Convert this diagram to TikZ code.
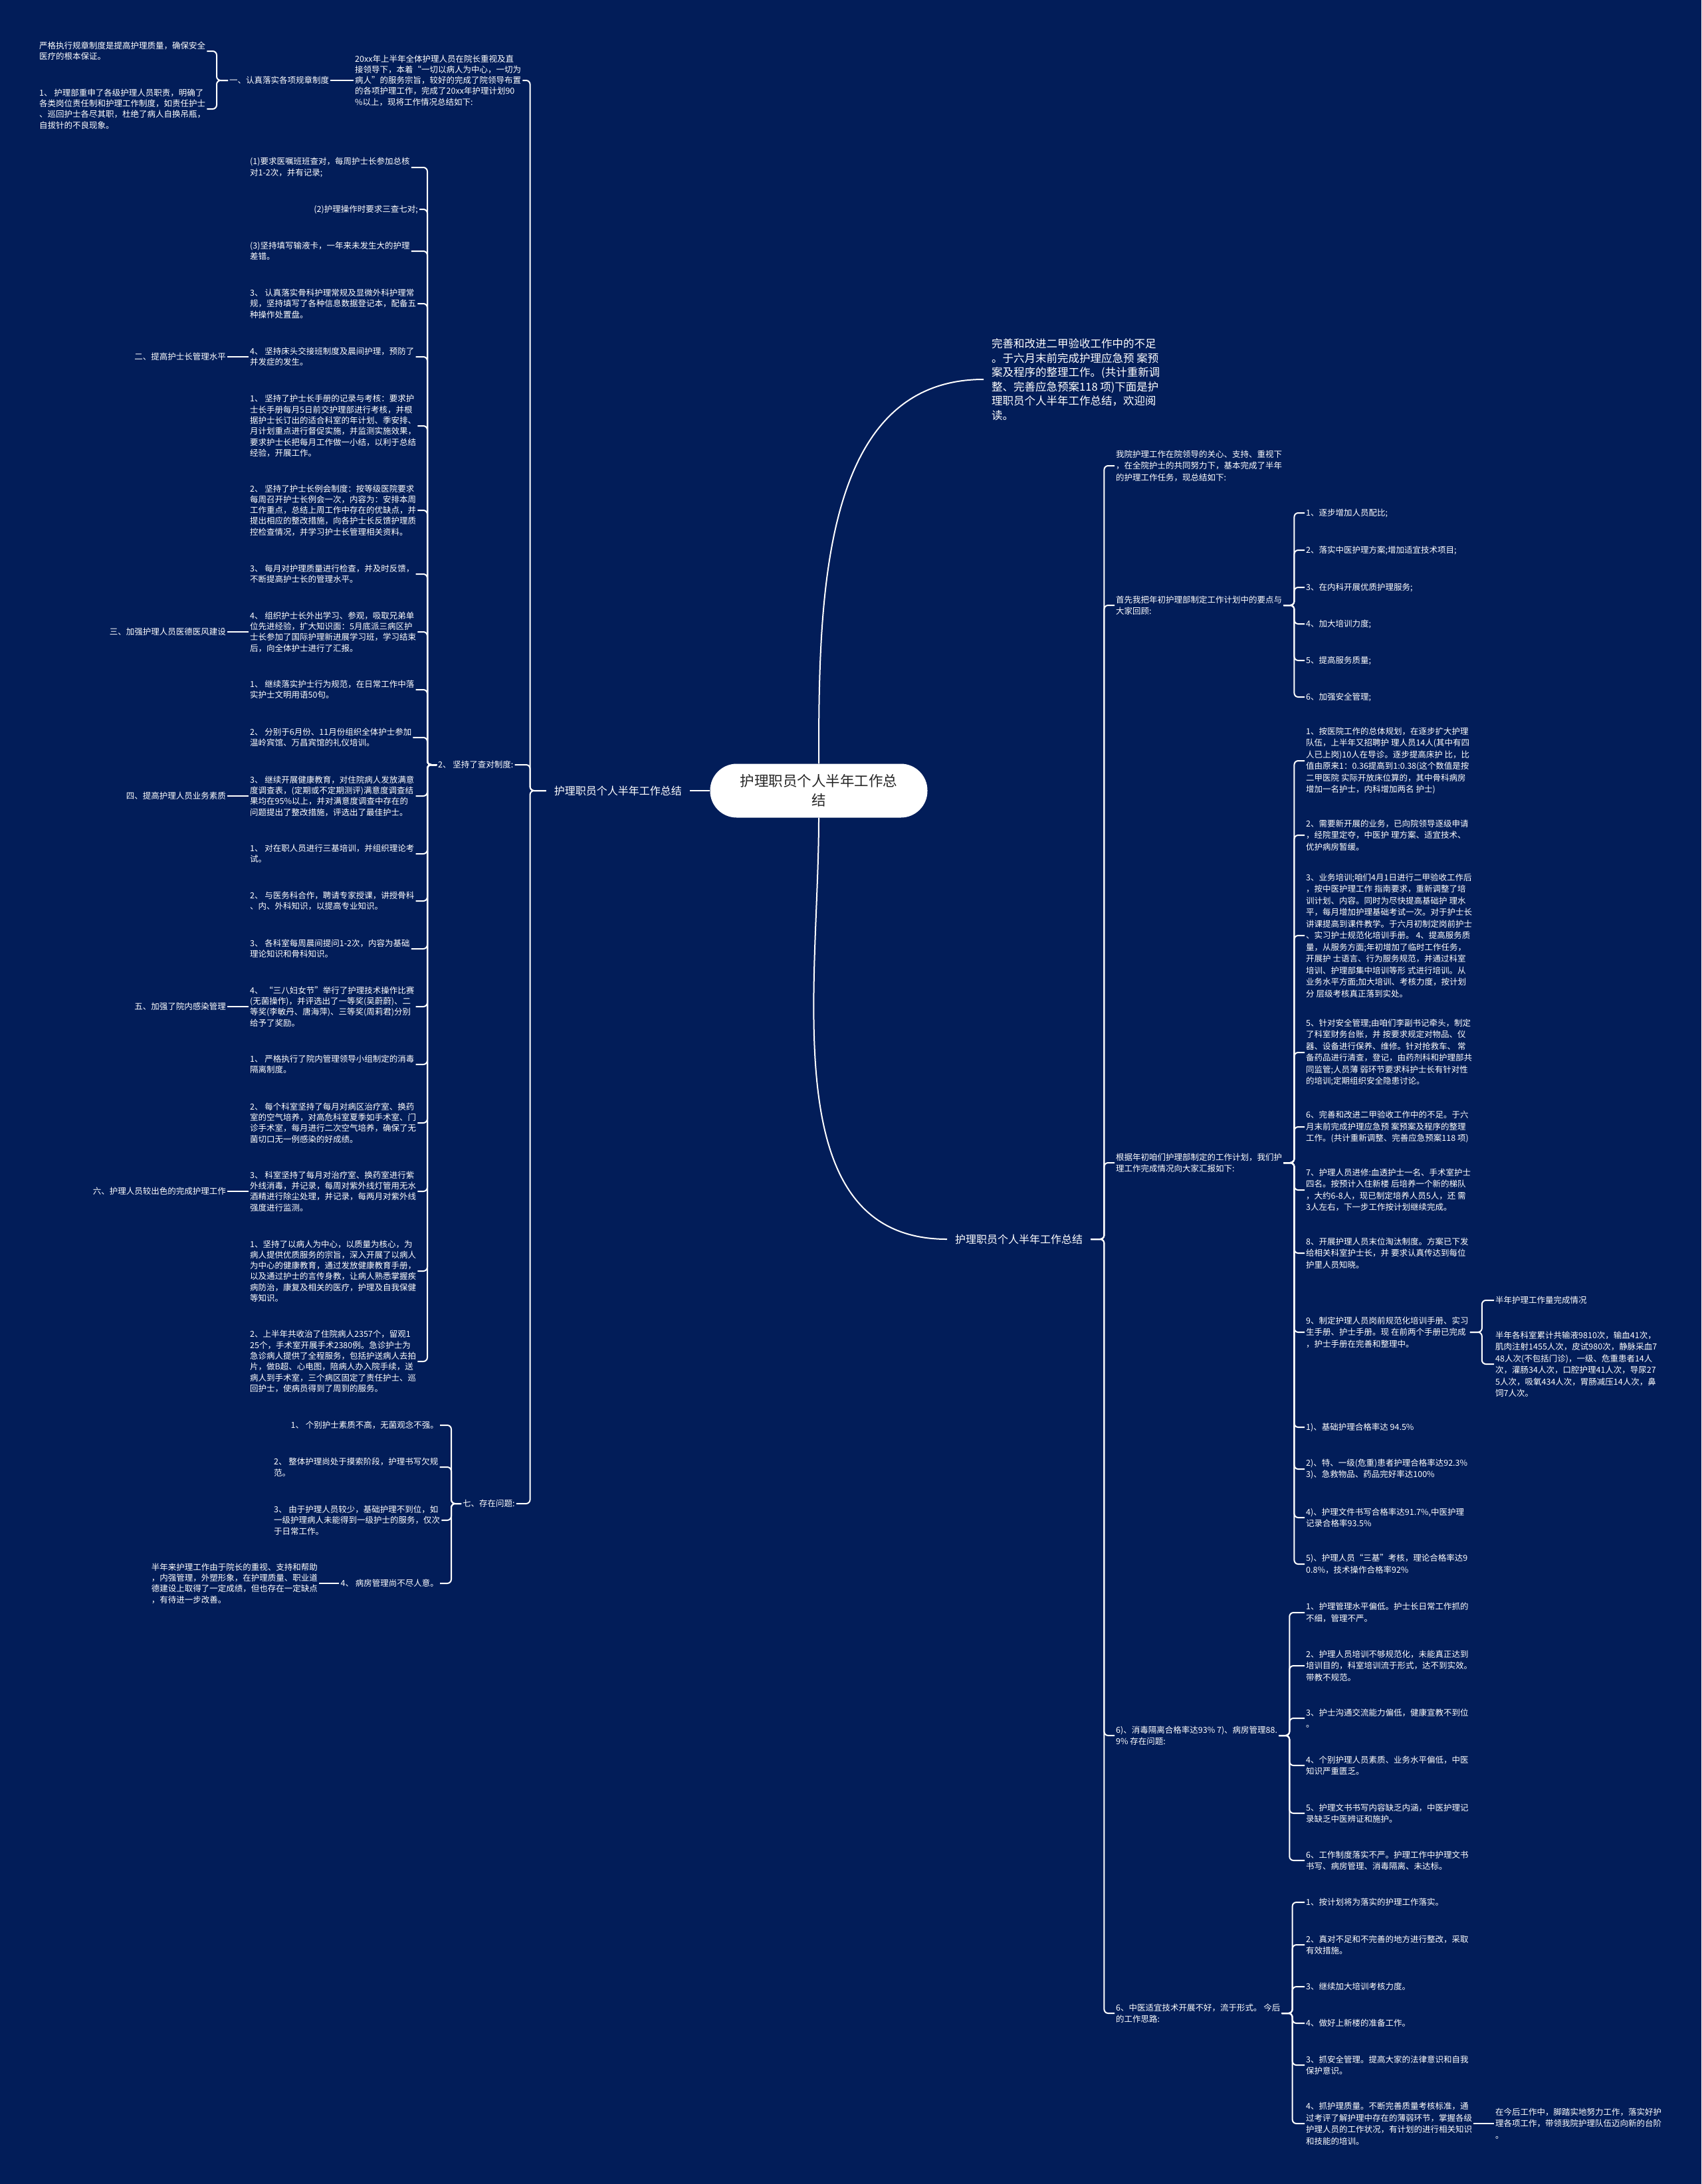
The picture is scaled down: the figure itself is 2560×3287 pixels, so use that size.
\documentclass[tikz,border=0pt]{standalone}
\usepackage{fontspec}
\usepackage{tikz}
\usepackage{xcolor}
\newfontfamily\cjk{Noto Sans CJK SC}
\definecolor{mapbg}{RGB}{2,29,89}
\newcommand\leaffont{\cjk\fontsize{12.5}{16.3}\selectfont}
\newcommand\rleaffont{\cjk\fontsize{12.5}{17.5}\selectfont}
\newcommand\branchfont{\cjk\fontsize{16}{20}\selectfont}
\newcommand\introfont{\cjk\fontsize{16.5}{21.5}\selectfont}
\newcommand\topicfont{\cjk\fontsize{21.5}{29}\selectfont}

\begin{document}
\begin{tikzpicture}[x=1pt, y=-1pt,
    leaf/.style={text=white, align=left, inner sep=2pt, font=\leaffont},
    rleaf/.style={leaf, font=\rleaffont},
    branch/.style={text=white, inner xsep=12pt, font=\branchfont},
    topic/.style={fill=white, text=black!85, rounded corners=40pt, minimum width=327pt, minimum height=81pt, align=center, font=\topicfont},
    link/.style={draw=white, line width=2pt, rounded corners=6pt}]

    \fill[mapbg] (0,0) rectangle (2560,3287);
    \useasboundingbox (0,0) rectangle (2560,3287);

    % Centre
    \node[topic] (root) at (1232,1190) {护理职员个人半年工作总\\结};
    \node[branch, anchor=east] (lmain) at (1038,1190) {护理职员个人半年工作总结};
    \node[branch, anchor=west] (rmain) at (1425,1865) {护理职员个人半年工作总结};
    \node[text=white, align=left, inner xsep=12pt, font=\introfont, anchor=west] (intro) at (1480,571) {完善和改进二甲验收工作中的不足\\。于六月末前完成护理应急预 案预\\案及程序的整理工作。(共计重新调\\整、完善应急预案118 项)下面是护\\理职员个人半年工作总结，欢迎阅\\读。};

    % Left side
    \node[leaf, anchor=west] (n20) at (532,121) {20xx年上半年全体护理人员在院长重视及直\\接领导下，本着“一切以病人为中心，一切为\\病人”的服务宗旨，较好的完成了院领导布置\\的各项护理工作，完成了20xx年护理计划90\\\%以上，现将工作情况总结如下:};
    \node[leaf, anchor=west] (n1) at (343,121) {一、认真落实各项规章制度};
    \node[leaf, anchor=west] (n1a) at (57,77) {严格执行规章制度是提高护理质量，确保安全\\医疗的根本保证。};
    \node[leaf, anchor=west] (n1b) at (57,164) {1、 护理部重申了各级护理人员职责，明确了\\各类岗位责任制和护理工作制度，如责任护士\\、巡回护士各尽其职，杜绝了病人自换吊瓶，\\自拔针的不良现象。};

    \node[leaf, anchor=west] (n2) at (657,1151) {2、 坚持了查对制度:};
    \node[leaf, anchor=west] (c1) at (374,252) {(1)要求医嘱班班查对，每周护士长参加总核\\对1-2次，并有记录;};
    \node[leaf, anchor=east] (c2) at (631,315) {(2)护理操作时要求三查七对;};
    \node[leaf, anchor=west] (c3) at (374,378) {(3)坚持填写输液卡，一年来未发生大的护理\\差错。};
    \node[leaf, anchor=west] (c4) at (374,457) {3、 认真落实骨科护理常规及显微外科护理常\\规，坚持填写了各种信息数据登记本，配备五\\种操作处置盘。};
    \node[leaf, anchor=west] (c5) at (374,537) {4、 坚持床头交接班制度及晨间护理，预防了\\并发症的发生。};
    \node[leaf, anchor=west] (c6) at (374,641) {1、 坚持了护士长手册的记录与考核：要求护\\士长手册每月5日前交护理部进行考核，并根\\据护士长订出的适合科室的年计划、季安排、\\月计划重点进行督促实施，并监测实施效果，\\要求护士长把每月工作做一小结，以利于总结\\经验，开展工作。};
    \node[leaf, anchor=west] (c7) at (374,768) {2、 坚持了护士长例会制度：按等级医院要求\\每周召开护士长例会一次，内容为：安排本周\\工作重点，总结上周工作中存在的优缺点，并\\提出相应的整改措施，向各护士长反馈护理质\\控检查情况，并学习护士长管理相关资料。};
    \node[leaf, anchor=west] (c8) at (374,864) {3、 每月对护理质量进行检查，并及时反馈，\\不断提高护士长的管理水平。};
    \node[leaf, anchor=west] (c9) at (374,951) {4、 组织护士长外出学习、参观，吸取兄弟单\\位先进经验，扩大知识面：5月底派三病区护\\士长参加了国际护理新进展学习班，学习结束\\后，向全体护士进行了汇报。};
    \node[leaf, anchor=west] (c10) at (374,1038) {1、 继续落实护士行为规范，在日常工作中落\\实护士文明用语50句。};
    \node[leaf, anchor=west] (c11) at (374,1110) {2、 分别于6月份、11月份组织全体护士参加\\温岭宾馆、万昌宾馆的礼仪培训。};
    \node[leaf, anchor=west] (c12) at (374,1198) {3、 继续开展健康教育，对住院病人发放满意\\度调查表，(定期或不定期测评)满意度调查结\\果均在95\%以上，并对满意度调查中存在的\\问题提出了整改措施，评选出了最佳护士。};
    \node[leaf, anchor=west] (c13) at (374,1285) {1、 对在职人员进行三基培训，并组织理论考\\试。};
    \node[leaf, anchor=west] (c14) at (374,1356) {2、 与医务科合作，聘请专家授课，讲授骨科\\、内、外科知识，以提高专业知识。};
    \node[leaf, anchor=west] (c15) at (374,1428) {3、 各科室每周晨间提问1-2次，内容为基础\\理论知识和骨科知识。};
    \node[leaf, anchor=west] (c16) at (374,1515) {4、 “三八妇女节”举行了护理技术操作比赛\\(无菌操作)，并评选出了一等奖(吴蔚蔚)、二\\等奖(李敏丹、唐海萍)、三等奖(周莉君)分别\\给予了奖励。};
    \node[leaf, anchor=west] (c17) at (374,1602) {1、 严格执行了院内管理领导小组制定的消毒\\隔离制度。};
    \node[leaf, anchor=west] (c18) at (374,1690) {2、 每个科室坚持了每月对病区治疗室、换药\\室的空气培养，对高危科室夏季如手术室、门\\诊手术室，每月进行二次空气培养，确保了无\\菌切口无一例感染的好成绩。};
    \node[leaf, anchor=west] (c19) at (374,1793) {3、 科室坚持了每月对治疗室、换药室进行紫\\外线消毒，并记录，每周对紫外线灯管用无水\\酒精进行除尘处理，并记录，每两月对紫外线\\强度进行监测。};
    \node[leaf, anchor=west] (c20) at (374,1913) {1、坚持了以病人为中心，以质量为核心，为\\病人提供优质服务的宗旨，深入开展了以病人\\为中心的健康教育，通过发放健康教育手册，\\以及通过护士的言传身教，让病人熟悉掌握疾\\病防治，康复及相关的医疗，护理及自我保健\\等知识。};
    \node[leaf, anchor=west] (c21) at (374,2049) {2、上半年共收治了住院病人2357个，留观1\\25个，手术室开展手术2380例。急诊护士为\\急诊病人提供了全程服务，包括护送病人去拍\\片，做B超、心电图，陪病人办入院手续，送\\病人到手术室，三个病区固定了责任护士、巡\\回护士，使病员得到了周到的服务。};

    \node[leaf, anchor=east] (m2) at (342,537) {二、提高护士长管理水平};
    \node[leaf, anchor=east] (m3) at (342,951) {三、加强护理人员医德医风建设};
    \node[leaf, anchor=east] (m4) at (342,1198) {四、提高护理人员业务素质};
    \node[leaf, anchor=east] (m5) at (342,1515) {五、加强了院内感染管理};
    \node[leaf, anchor=east] (m6) at (342,1793) {六、护理人员较出色的完成护理工作};

    \node[leaf, anchor=west] (n7) at (694,2263) {七、存在问题:};
    \node[leaf, anchor=east] (p1) at (662,2145) {1、 个别护士素质不高，无菌观念不强。};
    \node[leaf, anchor=west] (p2) at (410,2208) {2、 整体护理尚处于摸索阶段，护理书写欠规\\范。};
    \node[leaf, anchor=west] (p3) at (410,2288) {3、 由于护理人员较少，基础护理不到位，如\\一级护理病人未能得到一级护士的服务，仅次\\于日常工作。};
    \node[leaf, anchor=east] (p4) at (662,2383) {4、 病房管理尚不尽人意。};
    \node[leaf, anchor=east] (p5) at (480,2383) {半年来护理工作由于院长的重视、支持和帮助\\，内强管理，外塑形象，在护理质量、职业道\\德建设上取得了一定成绩，但也存在一定缺点\\，有待进一步改善。};

    % Right side
    \node[rleaf, anchor=west] (r1) at (1677,701) {我院护理工作在院领导的关心、支持、重视下\\，在全院护士的共同努力下，基本完成了半年\\的护理工作任务，现总结如下:};
    \node[rleaf, anchor=west] (r2) at (1677,911) {首先我把年初护理部制定工作计划中的要点与\\大家回顾:};
    \node[rleaf, anchor=west] (r3) at (1677,1750) {根据年初咱们护理部制定的工作计划，我们护\\理工作完成情况向大家汇报如下:};
    \node[rleaf, anchor=west] (r4) at (1677,2612) {6)、消毒隔离合格率达93\% 7)、病房管理88.\\9\% 存在问题:};
    \node[rleaf, anchor=west] (r5) at (1677,3030) {6、中医适宜技术开展不好，流于形式。 今后\\的工作思路:};

    \node[rleaf, anchor=west] (s1) at (1963,772) {1、逐步增加人员配比;};
    \node[rleaf, anchor=west] (s2) at (1963,828) {2、落实中医护理方案;增加适宜技术项目;};
    \node[rleaf, anchor=west] (s3) at (1963,884) {3、在内科开展优质护理服务;};
    \node[rleaf, anchor=west] (s4) at (1963,939) {4、加大培训力度;};
    \node[rleaf, anchor=west] (s5) at (1963,994) {5、提高服务质量;};
    \node[rleaf, anchor=west] (s6) at (1963,1049) {6、加强安全管理;};

    \node[rleaf, anchor=west] (t1) at (1963,1145) {1、按医院工作的总体规划，在逐步扩大护理\\队伍，上半年又招聘护 理人员14人(其中有四\\人已上岗)10人在导诊。逐步提高床护 比，比\\值由原来1：0.36提高到1:0.38(这个数值是按\\二甲医院 实际开放床位算的，其中骨科病房\\增加一名护士，内科增加两名 护士)};
    \node[rleaf, anchor=west] (t2) at (1963,1257) {2、需要新开展的业务，已向院领导逐级申请\\，经院里定夺，中医护 理方案、适宜技术、\\优护病房暂缓。};
    \node[rleaf, anchor=west] (t3) at (1963,1408) {3、业务培训;咱们4月1日进行二甲验收工作后\\，按中医护理工作 指南要求，重新调整了培\\训计划、内容。同时为尽快提高基础护 理水\\平，每月增加护理基础考试一次。对于护士长\\讲课提高到课件教学。于六月初制定岗前护士\\、实习护士规范化培训手册。 4、提高服务质\\量，从服务方面;年初增加了临时工作任务，\\开展护 士语言、行为服务规范，并通过科室\\培训、护理部集中培训等形 式进行培训。从\\业务水平方面;加大培训、考核力度，按计划\\分 层级考核真正落到实处。};
    \node[rleaf, anchor=west] (t4) at (1963,1584) {5、针对安全管理;由咱们李副书记牵头，制定\\了科室财务台账，并 按要求规定对物品、仪\\器、设备进行保养、维修。针对抢救车、 常\\备药品进行清查，登记，由药剂科和护理部共\\同监管;人员薄 弱环节要求科护士长有针对性\\的培训;定期组织安全隐患讨论。};
    \node[rleaf, anchor=west] (t5) at (1963,1696) {6、完善和改进二甲验收工作中的不足。于六\\月末前完成护理应急预 案预案及程序的整理\\工作。(共计重新调整、完善应急预案118 项)};
    \node[rleaf, anchor=west] (t6) at (1963,1791) {7、护理人员进修:血透护士一名、手术室护士\\四名。按预计入住新楼 后培养一个新的梯队\\，大约6-8人，现已制定培养人员5人，还 需\\3人左右，下一步工作按计划继续完成。};
    \node[rleaf, anchor=west] (t7) at (1963,1886) {8、开展护理人员末位淘汰制度。方案已下发\\给相关科室护士长，并 要求认真传达到每位\\护里人员知晓。};
    \node[rleaf, anchor=west] (t8) at (1963,2005) {9、制定护理人员岗前规范化培训手册、实习\\生手册、护士手册。现 在前两个手册已完成\\，护士手册在完善和整理中。};
    \node[rleaf, anchor=west] (t9) at (1963,2148) {1)、基础护理合格率达 94.5\%};
    \node[rleaf, anchor=west] (t10) at (1963,2211) {2)、特、一级(危重)患者护理合格率达92.3\%\\3)、急救物品、药品完好率达100\%};
    \node[rleaf, anchor=west] (t11) at (1963,2284) {4)、护理文件书写合格率达91.7\%,中医护理\\记录合格率93.5\%};
    \node[rleaf, anchor=west] (t12) at (1963,2354) {5)、护理人员“三基”考核，理论合格率达9\\0.8\%，技术操作合格率92\%};

    \node[rleaf, anchor=west] (u1) at (2248,1957) {半年护理工作量完成情况};
    \node[rleaf, anchor=west] (u2) at (2248,2053) {半年各科室累计共输液9810次，输血41次，\\肌肉注射1455人次，皮试980次，静脉采血7\\48人次(不包括门诊)，一级、危重患者14人\\次，灌肠34人次，口腔护理41人次，导尿27\\5人次，吸氧434人次，胃肠减压14人次，鼻\\饲7人次。};

    \node[rleaf, anchor=west] (v1) at (1963,2427) {1、护理管理水平偏低。护士长日常工作抓的\\不细，管理不严。};
    \node[rleaf, anchor=west] (v2) at (1963,2507) {2、护理人员培训不够规范化，未能真正达到\\培训目的，科室培训流于形式，达不到实效。\\带教不规范。};
    \node[rleaf, anchor=west] (v3) at (1963,2586) {3、护士沟通交流能力偏低，健康宣教不到位\\。};
    \node[rleaf, anchor=west] (v4) at (1963,2657) {4、个别护理人员素质、业务水平偏低，中医\\知识严重匮乏。};
    \node[rleaf, anchor=west] (v5) at (1963,2729) {5、护理文书书写内容缺乏内涵，中医护理记\\录缺乏中医辨证和施护。};
    \node[rleaf, anchor=west] (v6) at (1963,2800) {6、工作制度落实不严。护理工作中护理文书\\书写、病房管理、消毒隔离、未达标。};

    \node[rleaf, anchor=west] (w1) at (1963,2863) {1、按计划将为落实的护理工作落实。};
    \node[rleaf, anchor=west] (w2) at (1963,2927) {2、真对不足和不完善的地方进行整改，采取\\有效措施。};
    \node[rleaf, anchor=west] (w3) at (1963,2990) {3、继续加大培训考核力度。};
    \node[rleaf, anchor=west] (w4) at (1963,3045) {4、做好上新楼的准备工作。};
    \node[rleaf, anchor=west] (w5) at (1963,3108) {3、抓安全管理。提高大家的法律意识和自我\\保护意识。};
    \node[rleaf, anchor=west] (w6) at (1963,3196) {4、抓护理质量。不断完善质量考核标准，通\\过考评了解护理中存在的薄弱环节，掌握各级\\护理人员的工作状况，有计划的进行相关知识\\和技能的培训。};
    \node[rleaf, anchor=west] (x1) at (2248,3196) {在今后工作中，脚踏实地努力工作，落实好护\\理各项工作，带领我院护理队伍迈向新的台阶\\。};

    % Connectors
    \draw[link] (root.west) -- (lmain.east);
    \draw[link] (root.north) to[out=90,in=180] (intro.west);
    \draw[link] (root.south) to[out=-90,in=180] (rmain.west);

    \draw[link] (lmain.west) -- ++(-24,0) |- (n20.east);
    \draw[link] (lmain.west) -- ++(-24,0) |- (n2.east);
    \draw[link] (lmain.west) -- ++(-24,0) |- (n7.east);
    \draw[link] (n20.west) -- (n1.east);
    \draw[link] (n1.west) -- ++(-17,0) |- (n1a.east);
    \draw[link] (n1.west) -- ++(-17,0) |- (n1b.east);

    \draw[link] (n2.west) -- ++(-14,0) |- (c1.east);
    \draw[link] (n2.west) -- ++(-14,0) |- (c2.east);
    \draw[link] (n2.west) -- ++(-14,0) |- (c3.east);
    \draw[link] (n2.west) -- ++(-14,0) |- (c4.east);
    \draw[link] (n2.west) -- ++(-14,0) |- (c5.east);
    \draw[link] (n2.west) -- ++(-14,0) |- (c6.east);
    \draw[link] (n2.west) -- ++(-14,0) |- (c7.east);
    \draw[link] (n2.west) -- ++(-14,0) |- (c8.east);
    \draw[link] (n2.west) -- ++(-14,0) |- (c9.east);
    \draw[link] (n2.west) -- ++(-14,0) |- (c10.east);
    \draw[link] (n2.west) -- ++(-14,0) |- (c11.east);
    \draw[link] (n2.west) -- ++(-14,0) |- (c12.east);
    \draw[link] (n2.west) -- ++(-14,0) |- (c13.east);
    \draw[link] (n2.west) -- ++(-14,0) |- (c14.east);
    \draw[link] (n2.west) -- ++(-14,0) |- (c15.east);
    \draw[link] (n2.west) -- ++(-14,0) |- (c16.east);
    \draw[link] (n2.west) -- ++(-14,0) |- (c17.east);
    \draw[link] (n2.west) -- ++(-14,0) |- (c18.east);
    \draw[link] (n2.west) -- ++(-14,0) |- (c19.east);
    \draw[link] (n2.west) -- ++(-14,0) |- (c20.east);
    \draw[link] (n2.west) -- ++(-14,0) |- (c21.east);
    \draw[link] (c5.west) -- (m2.east);
    \draw[link] (c9.west) -- (m3.east);
    \draw[link] (c12.west) -- (m4.east);
    \draw[link] (c16.west) -- (m5.east);
    \draw[link] (c19.west) -- (m6.east);

    \draw[link] (n7.west) -- ++(-15,0) |- (p1.east);
    \draw[link] (n7.west) -- ++(-15,0) |- (p2.east);
    \draw[link] (n7.west) -- ++(-15,0) |- (p3.east);
    \draw[link] (n7.west) -- ++(-15,0) |- (p4.east);
    \draw[link] (p4.west) -- (p5.east);

    \draw[link] (rmain.east) -- ++(20,0) |- (r1.west);
    \draw[link] (rmain.east) -- ++(20,0) |- (r2.west);
    \draw[link] (rmain.east) -- ++(20,0) |- (r3.west);
    \draw[link] (rmain.east) -- ++(20,0) |- (r4.west);
    \draw[link] (rmain.east) -- ++(20,0) |- (r5.west);

    \draw[link] (r2.east) -- ++(16,0) |- (s1.west);
    \draw[link] (r2.east) -- ++(16,0) |- (s2.west);
    \draw[link] (r2.east) -- ++(16,0) |- (s3.west);
    \draw[link] (r2.east) -- ++(16,0) |- (s4.west);
    \draw[link] (r2.east) -- ++(16,0) |- (s5.west);
    \draw[link] (r2.east) -- ++(16,0) |- (s6.west);

    \draw[link] (r3.east) -- ++(16,0) |- (t1.west);
    \draw[link] (r3.east) -- ++(16,0) |- (t2.west);
    \draw[link] (r3.east) -- ++(16,0) |- (t3.west);
    \draw[link] (r3.east) -- ++(16,0) |- (t4.west);
    \draw[link] (r3.east) -- ++(16,0) |- (t5.west);
    \draw[link] (r3.east) -- ++(16,0) |- (t6.west);
    \draw[link] (r3.east) -- ++(16,0) |- (t7.west);
    \draw[link] (r3.east) -- ++(16,0) |- (t8.west);
    \draw[link] (r3.east) -- ++(16,0) |- (t9.west);
    \draw[link] (r3.east) -- ++(16,0) |- (t10.west);
    \draw[link] (r3.east) -- ++(16,0) |- (t11.west);
    \draw[link] (r3.east) -- ++(16,0) |- (t12.west);
    \draw[link] (t8.east) -- ++(18,0) |- (u1.west);
    \draw[link] (t8.east) -- ++(18,0) |- (u2.west);

    \draw[link] (r4.east) -- ++(16,0) |- (v1.west);
    \draw[link] (r4.east) -- ++(16,0) |- (v2.west);
    \draw[link] (r4.east) -- ++(16,0) |- (v3.west);
    \draw[link] (r4.east) -- ++(16,0) |- (v4.west);
    \draw[link] (r4.east) -- ++(16,0) |- (v5.west);
    \draw[link] (r4.east) -- ++(16,0) |- (v6.west);

    \draw[link] (r5.east) -- ++(16,0) |- (w1.west);
    \draw[link] (r5.east) -- ++(16,0) |- (w2.west);
    \draw[link] (r5.east) -- ++(16,0) |- (w3.west);
    \draw[link] (r5.east) -- ++(16,0) |- (w4.west);
    \draw[link] (r5.east) -- ++(16,0) |- (w5.west);
    \draw[link] (r5.east) -- ++(16,0) |- (w6.west);
    \draw[link] (w6.east) -- (x1.west);
\end{tikzpicture}
\end{document}
